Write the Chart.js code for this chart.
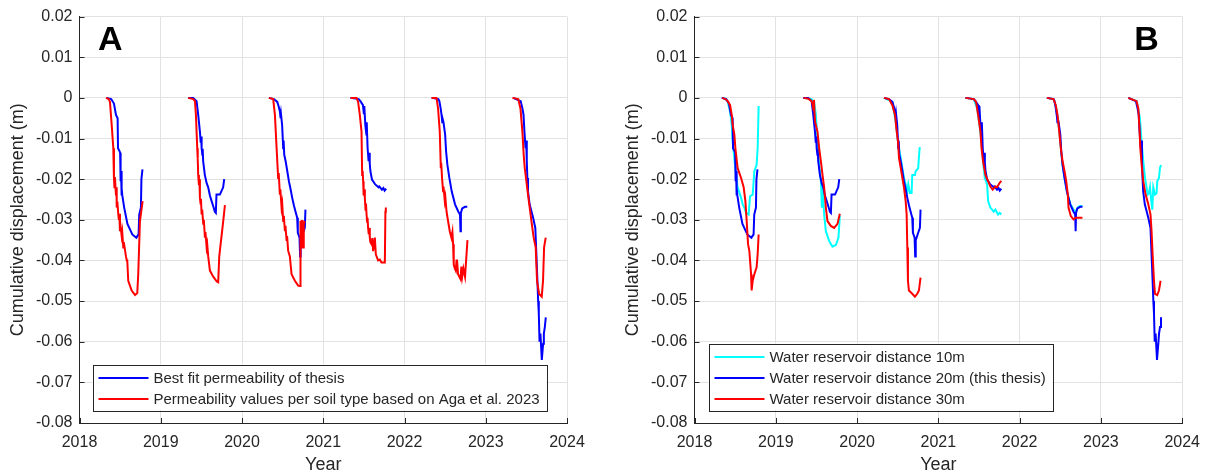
<!DOCTYPE html>
<html>
<head>
<meta charset="utf-8">
<script src="https://cdn.jsdelivr.net/npm/chart.js@4.4.1/dist/chart.umd.min.js"></script>
<style>
  html, body { margin: 0; padding: 0; background: #ffffff; }
  #wrap { position: relative; width: 1210px; height: 476px; overflow: hidden; background: #fff; }
  #panelA { position: absolute; left: 0; top: 0; }
  #panelB { position: absolute; left: 615px; top: 0; }
</style>
</head>
<body>
<div id="wrap">
  <canvas id="panelA" width="605" height="476"></canvas>
  <canvas id="panelB" width="595" height="476"></canvas>
</div>
<script>
// Seasonal simulation runs, one per year; null entries separate the seasons.

// Best-fit permeability (thesis) = reservoir distance 20 m
const thesisYears = [
  2018.334, 2018.39, 2018.424, 2018.449, 2018.469, 2018.474, 2018.49, 2018.50, 2018.506, 2018.511, 2018.516, 2018.521, 2018.527, 2018.55, 2018.59, 2018.65, 2018.70, 2018.727, 2018.735, 2018.756, 2018.762, 2018.775, null,
  2019.338, 2019.399, 2019.441, 2019.461, 2019.482, 2019.492, 2019.497, 2019.503, 2019.512, 2019.516, 2019.522, 2019.543, 2019.565, 2019.584, 2019.605, 2019.626, 2019.648, 2019.666, 2019.678, 2019.686, 2019.728, 2019.768, 2019.781, null,
  2020.331, 2020.393, 2020.434, 2020.45, 2020.467, 2020.475, 2020.48, 2020.494, 2020.507, 2020.512, 2020.52, 2020.537, 2020.557, 2020.577, 2020.598, 2020.618, 2020.639, 2020.659, 2020.679, 2020.687, 2020.708, 2020.715, 2020.722, 2020.752, 2020.773, 2020.781, null,
  2021.334, 2021.436, 2021.457, 2021.489, 2021.50, 2021.505, 2021.518, 2021.531, 2021.535, 2021.546, 2021.558, 2021.565, 2021.572, 2021.58, 2021.60, 2021.64, 2021.681, 2021.69, 2021.722, 2021.74, 2021.755, 2021.775, null,
  2022.335, 2022.417, 2022.429, 2022.445, 2022.458, 2022.465, 2022.47, 2022.479, 2022.50, 2022.512, 2022.528, 2022.552, 2022.581, 2022.622, 2022.663, 2022.683, 2022.689, 2022.694, 2022.71, 2022.745, 2022.773, null,
  2023.337, 2023.43, 2023.45, 2023.465, 2023.476, 2023.49, 2023.497, 2023.505, 2023.512, 2023.52, 2023.54, 2023.583, 2023.61, 2023.623, 2023.636, 2023.645, 2023.653, 2023.662, 2023.673, 2023.69, 2023.706, 2023.715, 2023.727, 2023.739
];
const thesisDisp = [
  0, -0.0003, -0.0014, -0.0042, -0.0050, -0.0124, -0.0130, -0.0135, -0.0205, -0.0180, -0.0240, -0.0222, -0.0240, -0.0270, -0.0310, -0.0336, -0.0344, -0.0336, -0.0287, -0.0270, -0.0200, -0.0176, null,
  0, 0, -0.0008, -0.0042, -0.0083, -0.0110, -0.0095, -0.0124, -0.0140, -0.0125, -0.0156, -0.0190, -0.0210, -0.0220, -0.0240, -0.0254, -0.0268, -0.0280, -0.0283, -0.0238, -0.0238, -0.0220, -0.0200, null,
  0, -0.0003, -0.0010, -0.0020, -0.0034, -0.0050, -0.0040, -0.0067, -0.0124, -0.0105, -0.0140, -0.0156, -0.0180, -0.0205, -0.0225, -0.0246, -0.0265, -0.0280, -0.0295, -0.0332, -0.0344, -0.0390, -0.0350, -0.0332, -0.0320, -0.0275, null,
  0, -0.0003, -0.0008, -0.0018, -0.0040, -0.0020, -0.0067, -0.0090, -0.0060, -0.0124, -0.0156, -0.0135, -0.0160, -0.0180, -0.0201, -0.0213, -0.0220, -0.0218, -0.0226, -0.0222, -0.0228, -0.0223, null,
  0, -0.0003, -0.0008, -0.0026, -0.0045, -0.0060, -0.0052, -0.0059, -0.0090, -0.0132, -0.0165, -0.0197, -0.0230, -0.0262, -0.0280, -0.0287, -0.0328, -0.0283, -0.0272, -0.0268, -0.0268, null,
  0, -0.0008, -0.0025, -0.0042, -0.0083, -0.0124, -0.0105, -0.0156, -0.0197, -0.0230, -0.0262, -0.0295, -0.0320, -0.0385, -0.0450, -0.0500, -0.0531, -0.0600, -0.0580, -0.0645, -0.0605, -0.0580, -0.0564, -0.0540
];

// Permeability values per soil type (Aga et al. 2023)
const agaYears = [
  2018.326, 2018.36, 2018.375, 2018.396, 2018.416, 2018.424, 2018.43, 2018.436, 2018.449, 2018.455, 2018.458, 2018.466, 2018.477, 2018.485, 2018.49, 2018.498, 2018.505, 2018.519, 2018.526, 2018.539, 2018.545, 2018.572, 2018.582, 2018.588, 2018.60, 2018.642, 2018.683, 2018.711, 2018.723, 2018.744, 2018.777, null,
  2019.338, 2019.40, 2019.421, 2019.433, 2019.449, 2019.455, 2019.461, 2019.47, 2019.476, 2019.482, 2019.49, 2019.495, 2019.503, 2019.51, 2019.523, 2019.53, 2019.544, 2019.55, 2019.565, 2019.572, 2019.584, 2019.605, 2019.646, 2019.69, 2019.707, 2019.72, 2019.737, 2019.769, 2019.79, null,
  2020.331, 2020.384, 2020.405, 2020.426, 2020.445, 2020.452, 2020.466, 2020.472, 2020.487, 2020.495, 2020.507, 2020.515, 2020.528, 2020.535, 2020.549, 2020.555, 2020.568, 2020.589, 2020.61, 2020.651, 2020.691, 2020.715, 2020.72, 2020.728, 2020.735, 2020.745, 2020.753, 2020.76, 2020.774, null,
  2021.336, 2021.41, 2021.429, 2021.45, 2021.471, 2021.479, 2021.485, 2021.491, 2021.497, 2021.503, 2021.512, 2021.52, 2021.526, 2021.533, 2021.54, 2021.545, 2021.552, 2021.56, 2021.565, 2021.573, 2021.58, 2021.594, 2021.604, 2021.614, 2021.635, 2021.647, 2021.675, 2021.696, 2021.717, 2021.758, 2021.765, 2021.77, null,
  2022.332, 2022.394, 2022.413, 2022.434, 2022.447, 2022.452, 2022.462, 2022.475, 2022.48, 2022.496, 2022.503, 2022.517, 2022.536, 2022.557, 2022.578, 2022.59, 2022.598, 2022.606, 2022.62, 2022.631, 2022.64, 2022.647, 2022.659, 2022.689, 2022.70, 2022.71, 2022.725, 2022.745, 2022.775, null,
  2023.328, 2023.40, 2023.427, 2023.451, 2023.467, 2023.48, 2023.50, 2023.52, 2023.541, 2023.562, 2023.59, 2023.615, 2023.631, 2023.656, 2023.689, 2023.705, 2023.718, 2023.738
];
const agaDisp = [
  0, -0.0003, -0.0010, -0.0066, -0.0124, -0.0197, -0.0220, -0.0195, -0.0240, -0.0220, -0.0270, -0.0255, -0.0286, -0.0300, -0.0285, -0.0328, -0.0315, -0.0340, -0.0330, -0.0368, -0.0355, -0.0390, -0.0400, -0.0400, -0.0450, -0.0474, -0.0485, -0.0480, -0.0434, -0.0303, -0.0254, null,
  0, -0.0003, -0.0008, -0.0042, -0.0124, -0.0150, -0.0190, -0.0215, -0.0200, -0.0246, -0.0260, -0.0248, -0.0287, -0.0275, -0.0310, -0.0300, -0.0344, -0.0330, -0.0368, -0.0360, -0.0390, -0.0425, -0.0440, -0.0452, -0.0454, -0.0390, -0.0360, -0.0303, -0.0264, null,
  0, -0.0003, -0.0042, -0.0124, -0.0197, -0.0185, -0.0238, -0.0225, -0.0270, -0.0260, -0.0303, -0.0290, -0.0328, -0.0315, -0.0352, -0.0340, -0.0376, -0.0390, -0.0434, -0.0450, -0.0462, -0.0463, -0.0303, -0.0368, -0.0303, -0.0303, -0.0368, -0.0310, -0.0303, null,
  0, 0, -0.0010, -0.0042, -0.0083, -0.0190, -0.0180, -0.0205, -0.0240, -0.0225, -0.0246, -0.0275, -0.0260, -0.0287, -0.0305, -0.0295, -0.0320, -0.0335, -0.0320, -0.0344, -0.0355, -0.0360, -0.0345, -0.0377, -0.0344, -0.0385, -0.0400, -0.0398, -0.0405, -0.0405, -0.0280, -0.0270, null,
  0, 0, -0.0026, -0.0083, -0.0173, -0.0160, -0.0197, -0.0230, -0.0218, -0.0254, -0.0245, -0.0279, -0.0303, -0.0328, -0.0344, -0.0330, -0.0360, -0.0410, -0.0420, -0.0425, -0.0400, -0.0400, -0.0434, -0.0446, -0.0415, -0.0440, -0.0420, -0.0440, -0.0350, null,
  0, -0.0003, -0.0026, -0.0083, -0.0140, -0.0173, -0.0205, -0.0238, -0.0270, -0.0303, -0.0344, -0.0368, -0.0450, -0.0482, -0.0489, -0.0450, -0.0368, -0.0344
];

// Water reservoir distance 10 m
const res10Years = [
  2018.34, 2018.38, 2018.409, 2018.438, 2018.458, 2018.47, 2018.49, 2018.512, 2018.531, 2018.573, 2018.593, 2018.613, 2018.634, 2018.666, 2018.683, 2018.716, 2018.736, 2018.764, 2018.777, 2018.789, null,
  2019.34, 2019.44, 2019.472, 2019.493, 2019.513, 2019.534, 2019.555, 2019.567, 2019.572, 2019.595, 2019.616, 2019.656, 2019.697, 2019.739, 2019.771, 2019.788, null,
  2020.331, 2020.434, 2020.475, 2020.504, 2020.516, 2020.537, 2020.557, 2020.577, 2020.598, 2020.618, 2020.63, 2020.65, 2020.671, 2020.679, 2020.712, 2020.72, 2020.752, 2020.769, 2020.781, null,
  2021.334, 2021.436, 2021.477, 2021.506, 2021.531, 2021.55, 2021.571, 2021.60, 2021.612, 2021.64, 2021.681, 2021.702, 2021.734, 2021.755, 2021.775, null,
  2022.335, 2022.417, 2022.445, 2022.466, 2022.487, 2022.507, 2022.528, 2022.552, 2022.581, 2022.622, 2022.663, 2022.69, 2022.72, 2022.75, 2022.773, null,
  2023.337, 2023.44, 2023.48, 2023.50, 2023.521, 2023.542, 2023.562, 2023.574, 2023.59, 2023.604, 2023.618, 2023.632, 2023.644, 2023.665, 2023.685, 2023.693, 2023.714, 2023.726, 2023.739
];
const res10Disp = [
  0, -0.0002, -0.0010, -0.0034, -0.0067, -0.0108, -0.0148, -0.0190, -0.0220, -0.0246, -0.0262, -0.0270, -0.0283, -0.0287, -0.0242, -0.0238, -0.0181, -0.0165, -0.0124, -0.0020, null,
  0, -0.0003, -0.0010, -0.0042, -0.0108, -0.0165, -0.0205, -0.0270, -0.0210, -0.0287, -0.0328, -0.0352, -0.0366, -0.0362, -0.0344, -0.0290, null,
  0, -0.0010, -0.0059, -0.0108, -0.0124, -0.0148, -0.0173, -0.0197, -0.0213, -0.0230, -0.0213, -0.0234, -0.0234, -0.0190, -0.0190, -0.0181, -0.0173, -0.0124, -0.0122, null,
  0, -0.0003, -0.0026, -0.0067, -0.0108, -0.0156, -0.0197, -0.0213, -0.0254, -0.0270, -0.0280, -0.0275, -0.0287, -0.0283, -0.0287, null,
  0, -0.0003, -0.0020, -0.0045, -0.0080, -0.0124, -0.0165, -0.0197, -0.0230, -0.0260, -0.0275, -0.0280, -0.0268, -0.0266, -0.0266, null,
  0, -0.0008, -0.0050, -0.0108, -0.0156, -0.0197, -0.0220, -0.0238, -0.0235, -0.0220, -0.0250, -0.0275, -0.0220, -0.0238, -0.0234, -0.0205, -0.0197, -0.0173, -0.0165
];

// Water reservoir distance 30 m
const res30Years = [
  2018.34, 2018.38, 2018.409, 2018.438, 2018.458, 2018.47, 2018.49, 2018.503, 2018.531, 2018.573, 2018.605, 2018.626, 2018.642, 2018.659, 2018.675, 2018.696, 2018.703, 2018.716, 2018.736, 2018.764, 2018.777, 2018.789, null,
  2019.341, 2019.40, 2019.44, 2019.452, 2019.465, 2019.47, 2019.478, 2019.485, 2019.513, 2019.534, 2019.555, 2019.575, 2019.595, 2019.616, 2019.636, 2019.677, 2019.718, 2019.759, 2019.788, null,
  2020.331, 2020.393, 2020.434, 2020.467, 2020.483, 2020.504, 2020.516, 2020.537, 2020.557, 2020.577, 2020.598, 2020.61, 2020.618, 2020.626, 2020.638, 2020.679, 2020.712, 2020.74, 2020.761, 2020.781, null,
  2021.334, 2021.436, 2021.464, 2021.489, 2021.518, 2021.531, 2021.55, 2021.58, 2021.612, 2021.64, 2021.669, 2021.702, 2021.722, 2021.751, 2021.775, null,
  2022.335, 2022.417, 2022.445, 2022.466, 2022.487, 2022.507, 2022.528, 2022.552, 2022.573, 2022.593, 2022.601, 2022.63, 2022.663, 2022.691, 2022.773, null,
  2023.337, 2023.439, 2023.46, 2023.472, 2023.485, 2023.501, 2023.521, 2023.55, 2023.583, 2023.61, 2023.623, 2023.636, 2023.653, 2023.665, 2023.693, 2023.714, 2023.734
];
const res30Disp = [
  0, -0.0003, -0.0008, -0.0018, -0.0042, -0.0067, -0.0090, -0.0124, -0.0173, -0.0197, -0.0220, -0.0254, -0.0303, -0.0360, -0.0377, -0.0434, -0.0474, -0.0450, -0.0434, -0.0417, -0.0385, -0.0336, null,
  0, -0.0002, -0.0008, -0.0015, -0.0030, -0.0005, -0.0042, -0.0060, -0.0083, -0.0124, -0.0156, -0.0190, -0.0220, -0.0270, -0.0303, -0.0315, -0.0320, -0.0310, -0.0285, null,
  0, -0.0003, -0.0018, -0.0042, -0.0075, -0.0108, -0.0148, -0.0173, -0.0197, -0.0220, -0.0254, -0.0287, -0.0368, -0.0450, -0.0474, -0.0482, -0.0489, -0.0482, -0.0474, -0.0442, null,
  0, -0.0003, -0.0010, -0.0042, -0.0083, -0.0124, -0.0156, -0.0190, -0.0205, -0.0218, -0.0226, -0.0218, -0.0220, -0.0210, -0.0204, null,
  0, -0.0003, -0.0018, -0.0042, -0.0083, -0.0124, -0.0156, -0.0180, -0.0205, -0.0238, -0.0270, -0.0291, -0.0299, -0.0295, -0.0295, null,
  0, -0.0008, -0.0026, -0.0067, -0.0124, -0.0165, -0.0205, -0.0238, -0.0262, -0.0287, -0.0328, -0.0385, -0.0450, -0.0482, -0.0485, -0.0474, -0.0450
];

// Axis ranges and tick steps
const yearTicks = [2018, 2019, 2020, 2021, 2022, 2023, 2024];
const dispMin = -0.08, dispMax = 0.02, dispStep = 0.01;

// Legend labels
const legendA = ['Best fit permeability of thesis', 'Permeability values per soil type based on Aga et al. 2023'];
const legendB = ['Water reservoir distance 10m', 'Water reservoir distance 20m (this thesis)', 'Water reservoir distance 30m'];

const BLUE = '#0000ff', RED = '#ff0000', CYAN = '#00ffff';
const INK = '#262626';
const FONT = "'Liberation Sans', Arial, Helvetica, sans-serif";

Chart.defaults.font.family = FONT;
Chart.defaults.color = INK;

function toPoints(xs, ys) {
  return xs.map((x, i) => ({ x: x, y: ys[i] }));
}

function lineSet(label, xs, ys, color, order) {
  return {
    label: label,
    data: toPoints(xs, ys),
    borderColor: color,
    backgroundColor: color,
    borderWidth: 2,
    pointRadius: 0,
    pointHoverRadius: 0,
    tension: 0,
    spanGaps: false,
    order: order
  };
}

// Short inward tick marks on the left and bottom axes
const innerTicks = {
  id: 'innerTicks',
  afterDatasetsDraw(chart) {
    const { ctx, chartArea: a, scales: { x, y } } = chart;
    ctx.save();
    ctx.strokeStyle = INK;
    ctx.lineWidth = 1;
    ctx.beginPath();
    x.ticks.forEach(t => {
      const px = Math.round(x.getPixelForValue(t.value)) + 0.5;
      ctx.moveTo(px, a.bottom);
      ctx.lineTo(px, a.bottom - 5);
    });
    y.ticks.forEach(t => {
      const py = Math.round(y.getPixelForValue(t.value)) + 0.5;
      ctx.moveTo(a.left, py);
      ctx.lineTo(a.left + 5, py);
    });
    ctx.stroke();
    ctx.restore();
  }
};

// Boxed legend in the lower-left corner of the plot area
const boxLegend = {
  id: 'boxLegend',
  afterDraw(chart, args, opts) {
    const items = opts.items || [];
    if (!items.length) return;
    const { ctx, chartArea: a } = chart;
    ctx.save();
    ctx.font = '15px ' + FONT;
    const rowH = 21, lineLen = 50, gap = 5, padL = 6, padR = 7;
    let textW = 0;
    items.forEach(it => { textW = Math.max(textW, ctx.measureText(it.text).width); });
    const w = padL + lineLen + gap + textW + padR;
    const h = 13.5 + (items.length - 1) * rowH + 11;
    const left = a.left + opts.dx;
    const top = a.bottom - opts.dy - h;
    ctx.fillStyle = '#ffffff';
    ctx.fillRect(left, top, w, h);
    ctx.strokeStyle = INK;
    ctx.lineWidth = 1;
    ctx.strokeRect(Math.round(left) + 0.5, Math.round(top) + 0.5, Math.round(w), Math.round(h));
    ctx.textBaseline = 'middle';
    ctx.textAlign = 'left';
    items.forEach((it, i) => {
      const cy = top + 13.5 + i * rowH;
      ctx.strokeStyle = it.color;
      ctx.lineWidth = 2;
      ctx.beginPath();
      ctx.moveTo(left + padL, cy);
      ctx.lineTo(left + padL + lineLen, cy);
      ctx.stroke();
      ctx.fillStyle = INK;
      ctx.fillText(it.text, left + padL + lineLen + gap, cy + 1);
    });
    ctx.restore();
  }
};

// Bold panel letter inside the plot area
const panelLetter = {
  id: 'panelLetter',
  afterDraw(chart, args, opts) {
    if (!opts.text) return;
    const { ctx, chartArea: a } = chart;
    ctx.save();
    ctx.font = 'bold 34px ' + FONT;
    ctx.fillStyle = '#000000';
    ctx.textBaseline = 'alphabetic';
    if (opts.side === 'right') {
      ctx.textAlign = 'right';
      ctx.fillText(opts.text, a.right - opts.dx, a.top + opts.dy);
    } else {
      ctx.textAlign = 'left';
      ctx.fillText(opts.text, a.left + opts.dx, a.top + opts.dy);
    }
    ctx.restore();
  }
};

function makeOptions(padRight, legendItems, legendDx, letter) {
  return {
    responsive: false,
    animation: false,
    devicePixelRatio: 1,
    layout: { padding: { left: 0, top: 14, right: padRight, bottom: 0 } },
    plugins: {
      legend: { display: false },
      tooltip: { enabled: false },
      boxLegend: { items: legendItems, dx: legendDx, dy: 13 },
      panelLetter: letter
    },
    scales: {
      x: {
        type: 'linear',
        min: yearTicks[0],
        max: yearTicks[yearTicks.length - 1],
        afterBuildTicks: s => { s.ticks = yearTicks.map(v => ({ value: v })); },
        afterFit: s => { s.height = 53; },
        ticks: {
          font: { size: 16 },
          color: INK,
          padding: 10,
          maxRotation: 0,
          callback: v => String(v)
        },
        grid: { color: '#e2e2e2', lineWidth: 1, drawTicks: false },
        border: { display: true, color: INK, width: 1 },
        title: { display: true, text: 'Year', font: { size: 18 }, color: INK, padding: { top: 0, bottom: 0 } }
      },
      y: {
        type: 'linear',
        min: dispMin,
        max: dispMax,
        afterFit: s => { s.width = 79.5; },
        ticks: {
          stepSize: dispStep,
          font: { size: 16 },
          color: INK,
          padding: 7,
          callback: v => String(Number(Number(v).toFixed(2)))
        },
        grid: { color: '#e2e2e2', lineWidth: 1, drawTicks: false },
        border: { display: true, color: INK, width: 1 },
        title: { display: true, text: 'Cumulative displacement (m)', font: { size: 18 }, color: INK, padding: { top: 7, bottom: 0 } }
      }
    }
  };
}

new Chart(document.getElementById('panelA'), {
  type: 'line',
  data: {
    datasets: [
      lineSet(legendA[1], agaYears, agaDisp, RED, 0),
      lineSet(legendA[0], thesisYears, thesisDisp, BLUE, 1)
    ]
  },
  options: makeOptions(38, [
    { text: legendA[0], color: BLUE },
    { text: legendA[1], color: RED }
  ], 13, { text: 'A', side: 'left', dx: 18.5, dy: 33 }),
  plugins: [innerTicks, boxLegend, panelLetter]
});

new Chart(document.getElementById('panelB'), {
  type: 'line',
  data: {
    datasets: [
      lineSet(legendB[2], res30Years, res30Disp, RED, 0),
      lineSet(legendB[1], thesisYears, thesisDisp, BLUE, 1),
      lineSet(legendB[0], res10Years, res10Disp, CYAN, 2)
    ]
  },
  options: makeOptions(25.5, [
    { text: legendB[0], color: CYAN },
    { text: legendB[1], color: BLUE },
    { text: legendB[2], color: RED }
  ], 14, { text: 'B', side: 'right', dx: 23.5, dy: 33 }),
  plugins: [innerTicks, boxLegend, panelLetter]
});
</script>
</body>
</html>
